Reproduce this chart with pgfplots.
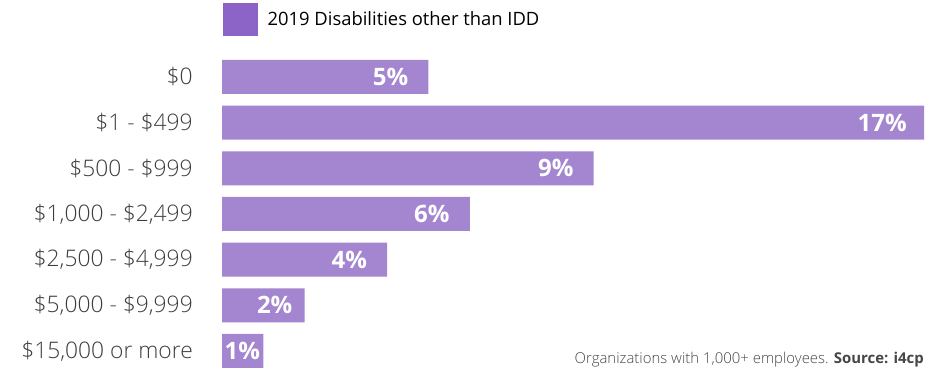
\documentclass[border=0pt]{standalone}
\usepackage{fontspec}
\setmainfont{Open Sans}
\newfontfamily\lightfont{Open Sans Light}
\usepackage{pgfplots}
\usepackage{pgfplotstable}
\pgfplotsset{compat=1.18}
\definecolor{barcol}{RGB}{163,133,208}
\definecolor{legcol}{RGB}{140,100,200}
\definecolor{labcol}{RGB}{60,60,60}
\definecolor{notecol}{RGB}{70,70,70}
\pgfplotstableread{
val pos sh
5 0 15
17 1 12.75
9 2 15
6 3 15
4 4 15
2 5 9
1 6 2.25
}\datatable
\begin{document}
\begin{tikzpicture}[x=0.75pt,y=0.75pt]
\begin{axis}[
  at={(166.5pt,-4.35pt)}, anchor=south west,
  scale only axis, width=526.5pt, height=239.8pt,
  xbar, bar width=25.5pt, bar shift=0pt,
  xmin=0, xmax=17, ymin=-0.5, ymax=6.5, y dir=reverse,
  axis line style={draw=none}, major tick length=0pt,
  xtick=\empty, ytick={0,...,6},
  yticklabels={\$0, \$1 - \$499, \$500 - \$999, {\$1,000 - \$2,499}, {\$2,500 - \$4,999}, {\$5,000 - \$9,999}, {\$15,000 or more}},
  yticklabel style={font=\lightfont\fontsize{17.1}{19}\selectfont, text=labcol, anchor=east, inner sep=0pt, xshift=-21.75pt},
  point meta=x,
  visualization depends on={\thisrow{sh} \as \myshift},
  nodes near coords={\pgfmathprintnumber[assume math mode=true]{\pgfplotspointmeta}\%},
  nodes near coords style={anchor=east, xshift=-\myshift pt, text=white, inner sep=0pt, font=\bfseries\fontsize{18}{20}\selectfont},
  clip=false,
  legend style={at={(rel axis cs:0,1)}, anchor=north west, xshift=0.75pt, yshift=38.4pt, draw=none, fill=none, inner sep=0pt, font=\fontsize{13.8}{16}\selectfont, /tikz/every even column/.append style={column sep=0pt}},
  legend cell align=left,
  legend image code/.code={\fill[legcol] (0pt,-12.4pt) rectangle (26.25pt,12.4pt);},
]
\addplot[fill=barcol, draw=none] table[x=val, y=pos] {\datatable};
\addlegendentry{\hspace{5pt}2019 Disabilities other than IDD}
\end{axis}
\node[anchor=base east, inner sep=0pt, font=\lightfont\fontsize{11.2}{13}\selectfont, text=notecol] at (924,4) {Organizations with 1,000+ employees. {\fontspec{Open Sans}\bfseries Source: i4cp}};
\pgfresetboundingbox
\path (0,0) rectangle (933,368);
\end{tikzpicture}
\end{document}
